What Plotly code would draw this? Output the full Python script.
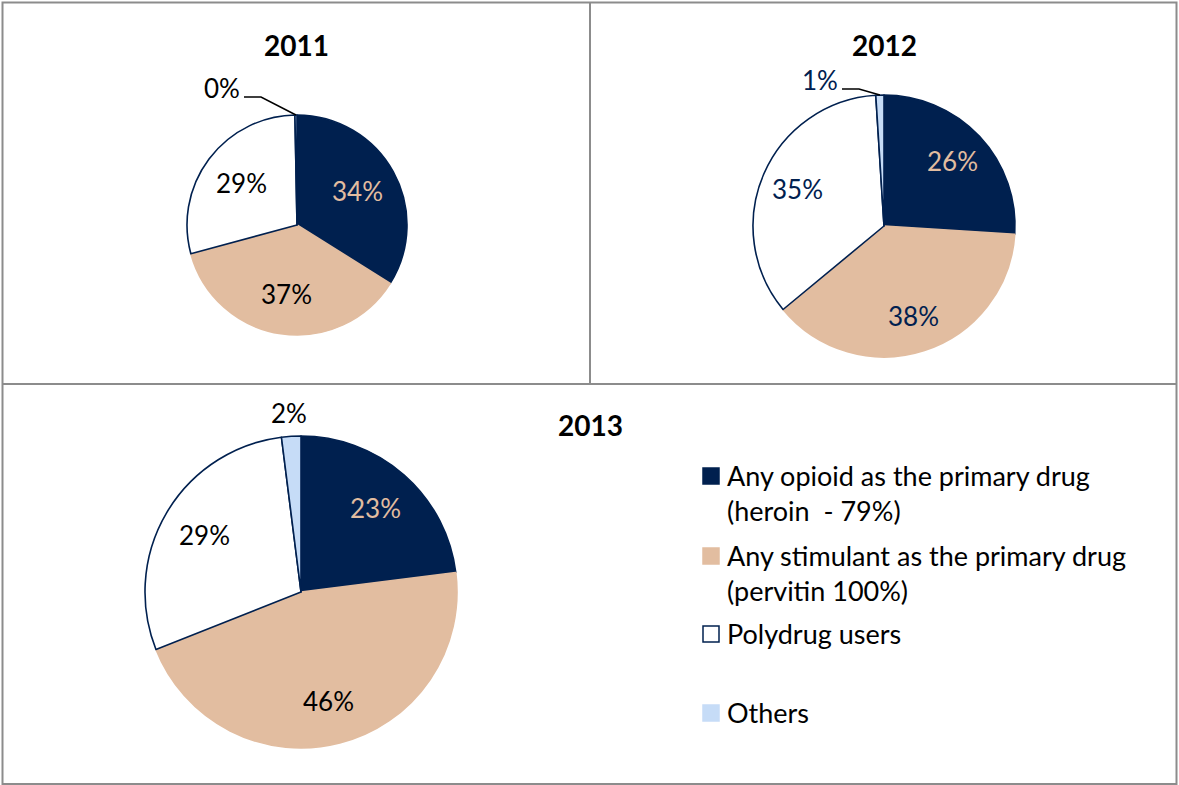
import math
import plotly.graph_objects as go

W, H = 1179, 785

years = ["2011", "2012", "2013"]
categories = ["Any opioid as the primary drug", "Any stimulant as the primary drug",
              "Polydrug users", "Others"]
legend_labels = ["Any opioid as the primary drug<br>(heroin  - 79%)",
                 "Any stimulant as the primary drug<br>(pervitin 100%)",
                 "Polydrug users",
                 "Others"]
values_2011 = [34, 37, 29, 0.3]
values_2012 = [26, 38, 35, 1]
values_2013 = [23, 46, 29, 2]
all_values = [values_2011, values_2012, values_2013]

NAVY = "#00204F"
TAN = "#E2BDA0"
LIGHT = "#C6DCF7"
slice_colors = [NAVY, TAN, "#FFFFFF", LIGHT]
line_colors = [NAVY, TAN, NAVY, NAVY]
text_colors = [
    [TAN, "#000000", "#000000", "#000000"],
    [TAN, NAVY, NAVY, NAVY],
    [TAN, "#000000", "#000000", "#000000"],
]
FONT = "Lato, 'Noto Sans', sans-serif"

# pie placement (pixel centre, radius) and inside label radial factor
geom = [(297, 225, 110), (884, 226, 131), (301, 592, 156)]
label_factor = [0.63, 0.72, 0.72]
title_pos = [(297, 45), (884, 45), (590, 425)]

fig = go.Figure()
for i, (vals, (cx, cy, r)) in enumerate(zip(all_values, geom)):
    fig.add_trace(go.Pie(
        labels=categories, values=vals, sort=False, direction="clockwise", rotation=0,
        marker=dict(colors=slice_colors, line=dict(color=line_colors, width=1.6)),
        textinfo="none",
        domain=dict(x=[(cx - r) / W, (cx + r) / W], y=[1 - (cy + r) / H, 1 - (cy - r) / H]),
        showlegend=False, hoverinfo="label+percent",
    ))

shapes = []
annotations = []
# frames
gray = "#8C8C8C"
shapes.append(dict(type="rect", xref="paper", yref="paper", x0=2.5 / W, x1=1176.5 / W,
                   y0=1 - 784 / H, y1=1 - 2.5 / H, line=dict(color=gray, width=2)))
shapes.append(dict(type="line", xref="paper", yref="paper", x0=2.5 / W, x1=1176.5 / W,
                   y0=1 - 384 / H, y1=1 - 384 / H, line=dict(color=gray, width=2)))
shapes.append(dict(type="line", xref="paper", yref="paper", x0=590 / W, x1=590 / W,
                   y0=1 - 384 / H, y1=1 - 2.5 / H, line=dict(color=gray, width=2)))

for yr, (tx, ty) in zip(years, title_pos):
    annotations.append(dict(text="<b>" + yr + "</b>", x=tx / W, y=1 - ty / H, xref="paper",
                            yref="paper", showarrow=False, xanchor="center", yanchor="middle",
                            font=dict(family=FONT, size=28, color="#000000")))

# percentage labels for the three large slices, placed at the slice mid-angle
for i, (vals, (cx, cy, r)) in enumerate(zip(all_values, geom)):
    tot = sum(vals)
    acc = 0
    for j in range(3):
        mid = math.radians((acc + vals[j] / 2) / tot * 360)
        acc += vals[j]
        px = cx + label_factor[i] * r * math.sin(mid)
        py = cy - label_factor[i] * r * math.cos(mid)
        annotations.append(dict(text="%d%%" % round(vals[j] / tot * 100), x=px / W,
                                y=1 - py / H, xref="paper", yref="paper", showarrow=False,
                                xanchor="center", yanchor="middle",
                                font=dict(family=FONT, size=26, color=text_colors[i][j])))

# small "Others" slice labels
small_label_pos = [(222, 88), (820, 80), (289, 413)]
small_label_col = ["#000000", NAVY, "#000000"]
leader = [True, True, False]
for i, (vals, (cx, cy, r)) in enumerate(zip(all_values, geom)):
    tot = sum(vals)
    pct = vals[3] / tot * 100
    txt = "%d%%" % round(pct)
    lx, ly = small_label_pos[i]
    annotations.append(dict(text=txt, x=lx / W, y=1 - ly / H, xref="paper", yref="paper",
                            showarrow=False, xanchor="center", yanchor="middle",
                            font=dict(family=FONT, size=26, color=small_label_col[i])))
    if leader[i]:
        start = sum(vals[:3]) / tot * 360
        mid = math.radians((start + 360) / 2)
        px = cx + r * math.sin(mid)
        py = cy - r * math.cos(mid)
        x1 = lx + 22
        x2 = x1 + 17
        path = "M %f %f L %f %f L %f %f" % (x1 / W, 1 - (ly + 9) / H, x2 / W, 1 - (ly + 9) / H,
                                           px / W, 1 - py / H)
        shapes.append(dict(type="path", xref="paper", yref="paper", path=path,
                           line=dict(color="#000000", width=1.5)))

# custom legend
leg_y = [476, 556, 634, 713]
sq_x = 711
sq = 16
for lab, col, lcol, y in zip(legend_labels, slice_colors, line_colors, leg_y):
    shapes.append(dict(type="rect", xref="paper", yref="paper",
                       x0=(sq_x - sq / 2) / W, x1=(sq_x + sq / 2) / W,
                       y0=1 - (y + sq / 2) / H, y1=1 - (y - sq / 2) / H,
                       fillcolor=col, line=dict(color=lcol if col != LIGHT else LIGHT, width=1.5)))
    annotations.append(dict(text=lab, x=(sq_x + 14) / W, y=1 - (y - 19) / H, xref="paper",
                            yref="paper", showarrow=False, xanchor="left", yanchor="top",
                            align="left", font=dict(family=FONT, size=27, color="#000000")))

fig.update_layout(width=W, height=H, margin=dict(l=0, r=0, t=0, b=0),
                  paper_bgcolor="white", plot_bgcolor="white",
                  shapes=shapes, annotations=annotations, showlegend=False)
fig.write_html("out.html")
